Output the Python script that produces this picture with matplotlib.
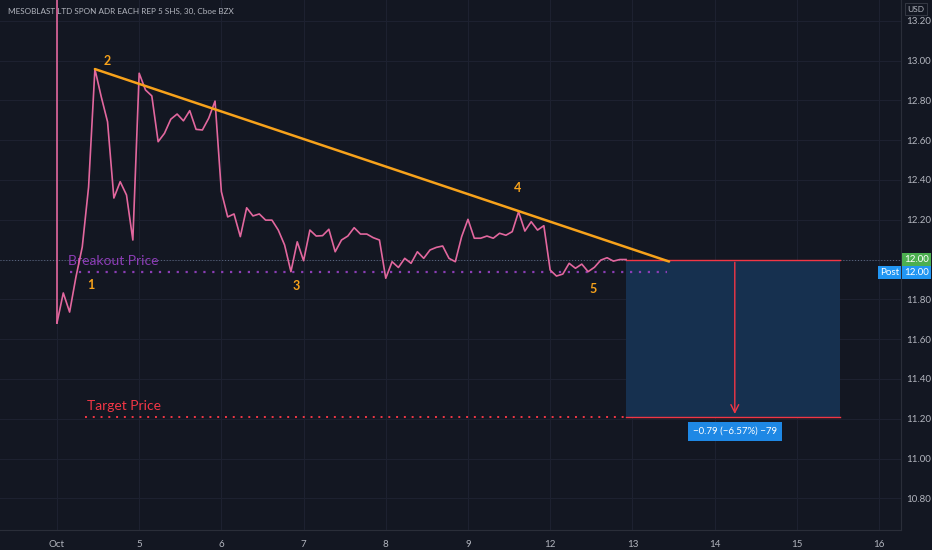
import matplotlib
matplotlib.use("Agg")
import matplotlib.pyplot as plt
import numpy as np

# ---------------- data ----------------
title = "MESOBLAST LTD SPON ADR EACH REP 5 SHS, 30, Cboe BZX"
day_labels = ["Oct", "5", "6", "7", "8", "9", "12", "13", "14", "15", "16"]
bars_per_day = 13
first_bar_high = 13.60  # spike entering the chart from above
prices = [11.681, 11.832, 11.736, 11.912, 12.063, 12.364, 12.957, 12.818, 12.692, 12.309,
          12.391, 12.324, 12.098, 12.936, 12.852, 12.822, 12.592, 12.634, 12.705, 12.731,
          12.697, 12.748, 12.654, 12.651, 12.710, 12.796, 12.341, 12.214, 12.229, 12.115,
          12.260, 12.219, 12.229, 12.198, 12.198, 12.148, 12.073, 11.939, 12.089, 11.994,
          12.148, 12.118, 12.120, 12.152, 12.039, 12.098, 12.118, 12.160, 12.128, 12.128,
          12.110, 12.098, 11.906, 11.989, 11.960, 12.006, 11.981, 12.039, 12.006, 12.048,
          12.061, 12.068, 12.006, 11.989, 12.115, 12.202, 12.107, 12.107, 12.118, 12.107,
          12.132, 12.122, 12.140, 12.240, 12.143, 12.190, 12.148, 12.170, 11.947, 11.917,
          11.927, 11.981, 11.956, 11.977, 11.939, 11.961, 11.997, 12.009, 11.992, 12.000,
          12.000]
price_ticks = [10.80, 11.00, 11.20, 11.40, 11.60, 11.80, 12.00, 12.20, 12.40, 12.60, 12.80, 13.00, 13.20]

trend_bars = [6, 96.8]
trend_prices = [12.957, 11.99]
wave_labels = ["1", "2", "3", "4", "5"]
wave_bars = [5.3, 7.9, 37.8, 72.8, 84.8]
wave_prices = [11.87, 13.00, 11.865, 12.36, 11.85]

breakout_price = 11.937
breakout_bars = [2.1, 96.5]
target_price = 11.21
target_bars = [4.5, 90]
last_price = 12.00
post_price = 11.937
box_bars = [90, 123.8]
arrow_bar = 107.2
measure_text = "\u22120.79 (\u22126.57%) \u221279"

# ---------------- style ----------------
BG = "#131722"
GRID = "#1d2130"
TXT = "#b2b5be"
PINK = "#e2679e"
ORANGE = "#f7a21b"
RED = "#f23645"
PURPLE = "#8b3db5"

plt.rcParams['font.family'] = ['Lato', 'DejaVu Sans']

W, H = 932, 550
fig = plt.figure(figsize=(W / 100, H / 100), dpi=100, facecolor=BG)
ax = fig.add_axes([0, 20 / H, 901 / W, 530 / H], facecolor=BG)

xmin, xmax = -0.693, 10.268
ymin, ymax = 10.641, 13.304
ax.set_xlim(xmin, xmax)
ax.set_ylim(ymin, ymax)

d = lambda b: np.asarray(b, dtype=float) / bars_per_day

# grid
for i in range(len(day_labels)):
    ax.axvline(i, color=GRID, lw=0.8, zorder=0)
for p in price_ticks:
    ax.axhline(p, color=GRID, lw=0.8, zorder=0)

# last price dotted line
ax.axhline(last_price, color="#5d6b84", lw=0.7, ls=(0, (1, 2)), zorder=1)

# measurement box
ax.fill_between(d(box_bars), target_price, last_price, color="#16304f", zorder=1, lw=0)
ax.plot(d(box_bars), [last_price] * 2, color=RED, lw=1.0, zorder=3)
ax.plot(d(box_bars), [target_price] * 2, color=RED, lw=1.0, zorder=3)
ax.annotate("", xy=(d(arrow_bar), target_price), xytext=(d(arrow_bar), last_price),
            arrowprops=dict(arrowstyle="->", color=RED, lw=1.0, mutation_scale=14), zorder=3)
ax.text(d(arrow_bar), 11.136, measure_text, color="white", fontsize=7, ha="center", va="center",
        zorder=5, bbox=dict(boxstyle="square,pad=0.5", fc="#1e88e5", ec="none"))

# breakout / target lines
ax.plot(d(breakout_bars), [breakout_price] * 2, color=PURPLE, lw=1.6, ls=(0, (1, 3)), zorder=2)
ax.text(d(1.8), 11.995, "Breakout Price", color=PURPLE, fontsize=10, ha="left", va="center", zorder=2)
ax.plot(d(target_bars), [target_price] * 2, color=RED, lw=1.4, ls=(0, (1, 3)), zorder=2)
ax.text(d(4.8), 11.265, "Target Price", color=RED, fontsize=10, ha="left", va="center", zorder=2)

# price line
x_bars = d(np.arange(len(prices)))
ax.plot([x_bars[0], x_bars[0]], [first_bar_high, prices[0]], color=PINK, lw=1.2, zorder=4)
ax.plot(x_bars, prices, color=PINK, lw=1.2, zorder=4)

# trend line
ax.plot(d(trend_bars), trend_prices, color=ORANGE, lw=1.8, zorder=5, solid_capstyle="round")

for lab, b, p in zip(wave_labels, wave_bars, wave_prices):
    ax.text(d(b), p, lab, color=ORANGE, fontsize=9, fontweight="bold", ha="center", va="center", zorder=6)

# axes styling
for s in ["top", "left"]:
    ax.spines[s].set_visible(False)
ax.spines["right"].set_color("#2a2e39")
ax.spines["bottom"].set_color("#2a2e39")
ax.yaxis.tick_right()
ax.set_yticks(price_ticks)
# the 12.00 tick label is covered by the last-price marker in the reference
ax.set_yticklabels(["" if abs(p - last_price) < 1e-9 else f"{p:.2f}" for p in price_ticks])
ax.set_xticks(range(len(day_labels)))
ax.set_xticklabels(day_labels)
ax.tick_params(axis="y", colors=TXT, labelsize=7, length=0, pad=4)
ax.tick_params(axis="x", colors=TXT, labelsize=7, length=0, pad=7)

# title
fig.text(8 / W, 1 - 11 / H, title, color=TXT, fontsize=5.9, ha="left", va="center")

# USD label
fig.text(916 / W, 1 - 9 / H, "USD", color=TXT, fontsize=6, ha="center", va="center",
         bbox=dict(boxstyle="square,pad=0.25", fc=BG, ec="#3a3e49", lw=0.6))

# last price labels
ax.text(1.0 + 3 / 901, last_price, f"{last_price:.2f}", transform=ax.get_yaxis_transform(), color="white",
        fontsize=7, ha="left", va="center", zorder=10, clip_on=False,
        bbox=dict(boxstyle="square,pad=0.2", fc="#4caf50", ec="none"))
ax.text(1.0 + 3 / 901, post_price, f"{last_price:.2f}", transform=ax.get_yaxis_transform(), color="white",
        fontsize=7, ha="left", va="center", zorder=10, clip_on=False,
        bbox=dict(boxstyle="square,pad=0.2", fc="#2196f3", ec="none"))
ax.text(1.0 - 2 / 901, post_price, "Post", transform=ax.get_yaxis_transform(), color="white",
        fontsize=7, ha="right", va="center", zorder=10, clip_on=False,
        bbox=dict(boxstyle="square,pad=0.2", fc="#2196f3", ec="none"))

fig.savefig("out.png", dpi=100, facecolor=BG)
